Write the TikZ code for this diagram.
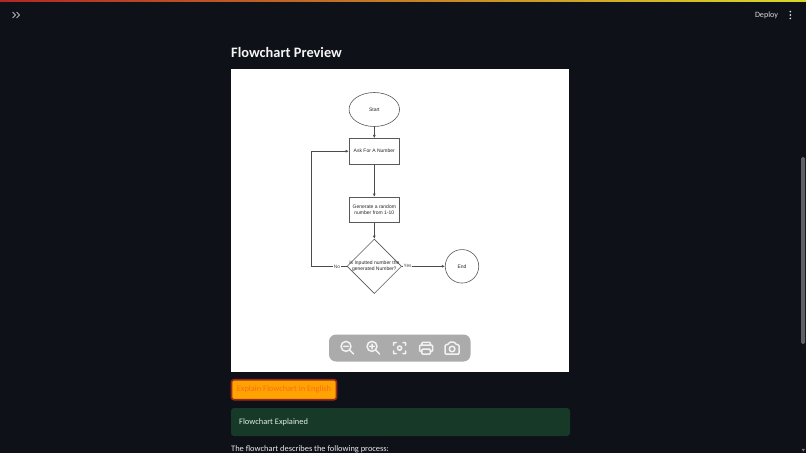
\documentclass[tikz,border=0pt]{standalone}
\usepackage{fontspec}
\setmainfont{Carlito}
\newfontfamily\flowfont{Liberation Sans}
\usepackage{xcolor}
\usetikzlibrary{arrows.meta}
\usetikzlibrary{calc}
\usetikzlibrary{shapes.geometric}
\definecolor{pagebg}{HTML}{0E1117}
\definecolor{toolgray}{HTML}{ABABAB}
\definecolor{iconwhite}{HTML}{F2F2F2}
\definecolor{okgreen}{HTML}{173928}
\definecolor{oktext}{HTML}{DDEFE3}
\definecolor{btnorange}{HTML}{FFA300}
\definecolor{btntext}{HTML}{FF6A1F}
\definecolor{btnborder}{HTML}{9A2A1C}
\tikzstyle{flowbox} = [draw=black!65, line width=0.6pt, inner sep=0pt, align=center, font=\flowfont\fontsize{5}{6.3}\selectfont, text=black!85]
\tikzstyle{flowarrow} = [-{Latex[length=3.2pt,width=3pt]}, line width=0.6pt, draw=black!70]
\tikzstyle{flowlabel} = [fill=white, inner sep=0.6pt, font=\flowfont\fontsize{4.85}{6}\selectfont, text=black!70]
\tikzstyle{uitext} = [anchor=west, inner sep=0pt]
\tikzstyle{toolicon} = [draw=iconwhite, line width=1.5pt, line cap=round, line join=round]

\begin{document}
\begin{tikzpicture}[x=1pt,y=-1pt]
	\clip (0,0) rectangle (806,453);
	\useasboundingbox (0,0) rectangle (806,453);
	\fill[pagebg] (0,0) rectangle (806,453);
	\shade[left color=red!65!black!85, right color=yellow!70!gray] (0,0) rectangle (806,1.5);

	% Header
	\draw[line width=0.9pt, draw=white!70!black, line cap=round, line join=round]
	(12.8,12.2) -- (15.6,15) -- (12.8,17.8)
	(16.8,12.2) -- (19.6,15) -- (16.8,17.8);
	\node (deploy) [uitext, text=white!85!black, font=\fontsize{8.1}{10}\selectfont] at (754.8,15.6) {Deploy};
	\fill[white!85!black] (790.3,11.6) circle (0.95pt) (790.3,15) circle (0.95pt) (790.3,18.4) circle (0.95pt);
	\node (title) [uitext, text=white!96!black, font=\bfseries\fontsize{14.4}{17}\selectfont] at (231,52.8) {Flowchart Preview};

	% Scrollbar
	\fill[white!33!pagebg, rounded corners=1.5pt] (801,157) rectangle (805.2,344);
	\fill[white!45!pagebg] (801.6,448.8) -- (805,448.8) -- (803.3,451.6) -- cycle;

	% Flowchart
	\fill[white] (231,69) rectangle (569,372);
	\node (start) [flowbox, ellipse,
	minimum width = 50.5pt,
	minimum height = 34pt] at (374.3,109.5) {Start};
	\node (ask) [flowbox, rectangle,
	minimum width = 50.5pt,
	minimum height = 25.5pt] at (374.3,151.2) {Ask For A Number};
	\node (generate) [flowbox, rectangle,
	minimum width = 50.5pt,
	minimum height = 25.5pt] at (374.3,209.8) {Generate a random\\number from 1-10};
	\node (check) [flowbox, diamond, aspect=1,
	minimum width = 54.5pt,
	minimum height = 54.5pt] at (374.3,266.3) {};
	\node (checktext) [flowbox, draw=none] at (check) {Is Inputted number the\\generated Number?};
	\node (end) [flowbox, circle,
	minimum size = 33.5pt] at (462,266.3) {End};

	\draw[flowarrow] (start) -- (ask);
	\draw[flowarrow] (ask) -- (generate);
	\draw[flowarrow] (generate) -- (check);
	\draw[flowarrow] (check) -- (end) node[flowlabel, pos=0.135] (yes) {Yes};
	\draw[flowarrow] (check.west) -- ($ (check.west) + (-35.3pt,0) $) |- (ask.west);
	\node (no) [flowlabel] at (337,266.5) {No};

	% Toolbar
	\fill[toolgray, rounded corners=7pt] (329,334.5) rectangle (470.5,361.5);
	\draw[toolicon] (346,346.4) circle (5pt) (349.7,350.1) -- (353.6,354) (343.6,346.4) -- (348.4,346.4);
	\draw[toolicon] (372,346.4) circle (5pt) (375.7,350.1) -- (379.6,354) (369.6,346.4) -- (374.4,346.4) (372,344) -- (372,348.8);
	\draw[toolicon] (393.6,345.3) -- (393.6,342.6) -- (396.3,342.6) (402.9,342.6) -- (405.6,342.6) -- (405.6,345.3)
	(405.6,350.9) -- (405.6,353.6) -- (402.9,353.6) (396.3,353.6) -- (393.6,353.6) -- (393.6,350.9)
	(399.6,348.1) circle (2.1pt);
	\draw[toolicon, rounded corners=1pt] (421.8,345) -- (421.8,342.3) -- (430.4,342.3) -- (430.4,345)
	(421.8,351.4) -- (419.5,351.4) -- (419.5,345.2) -- (432.7,345.2) -- (432.7,351.4) -- (430.4,351.4)
	(421.8,349.2) rectangle (430.4,354.2);
	\draw[toolicon, rounded corners=1pt] (445.2,344.6) -- (448.2,344.6) -- (449.4,342.2) -- (454.8,342.2) -- (456,344.6) -- (459,344.6) -- (459,354.2) -- (445.2,354.2) -- cycle;
	\draw[toolicon] (452.1,349) circle (2.8pt);

	% Button and messages
	\node (explain) [draw=btnborder, line width=1.6pt, fill=btnorange, rounded corners=2.5pt, inner sep=0pt,
	minimum width = 105pt,
	minimum height = 20pt,
	text=btntext, font=\fontsize{8.4}{10}\selectfont] at (284,389.7) {Explain Flowchart in English};
	\node (explained) [fill=okgreen, rounded corners=3pt, inner sep=0pt,
	minimum width = 339pt,
	minimum height = 28pt] at (400.5,422) {};
	\node (explainedtext) [uitext, text=oktext, font=\fontsize{8.4}{10}\selectfont] at (239,422.6) {Flowchart Explained};
	\node (process) [uitext, text=white!92!black, font=\fontsize{8.4}{10}\selectfont] at (231,449.2) {The flowchart describes the following process:};
\end{tikzpicture}
\end{document}
